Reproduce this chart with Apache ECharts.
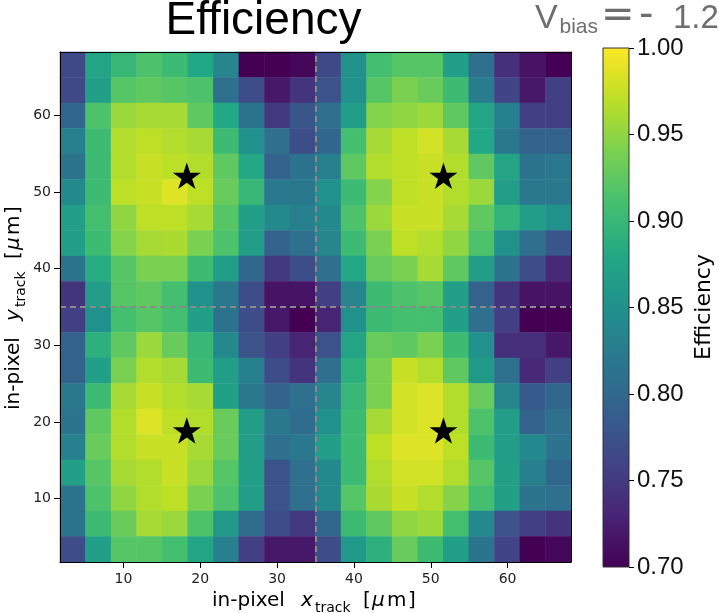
<!DOCTYPE html>
<html>
<head>
<meta charset="utf-8">
<script src="https://cdn.jsdelivr.net/npm/echarts@6/dist/echarts.min.js"></script>
<style>
  html, body { margin: 0; padding: 0; background: #fff; }
  #chart { width: 719px; height: 613px; }
</style>
</head>
<body>
<div id="chart"></div>
<script>
// In-pixel efficiency map, 20 x 20 bins over the in-pixel track position (µm)
const xRange = [1.75, 68.25];
const yRange = [1.75, 68.25];
const axisTicks = [10, 20, 30, 40, 50, 60];
const colorRange = [0.70, 1.00];
const colorStep = 0.05;

// Efficiency per bin, one row per y bin, top row (largest y) first, x increasing left to right
const efficiencyRows = [
  [0.765,0.875,0.900,0.915,0.905,0.880,0.835,0.700,0.700,0.705, 0.765,0.850,0.910,0.920,0.920,0.870,0.810,0.740,0.715,0.700],
  [0.765,0.870,0.920,0.925,0.920,0.915,0.810,0.770,0.720,0.745, 0.775,0.850,0.920,0.940,0.930,0.905,0.825,0.760,0.720,0.755],
  [0.800,0.915,0.955,0.960,0.960,0.925,0.880,0.815,0.750,0.780, 0.810,0.865,0.945,0.950,0.955,0.925,0.875,0.830,0.755,0.755],
  [0.830,0.905,0.965,0.970,0.965,0.960,0.905,0.850,0.810,0.770, 0.800,0.910,0.960,0.970,0.980,0.960,0.880,0.820,0.795,0.795],
  [0.815,0.905,0.965,0.975,0.970,0.965,0.925,0.880,0.795,0.815, 0.830,0.925,0.965,0.970,0.975,0.965,0.925,0.875,0.815,0.820],
  [0.840,0.905,0.970,0.975,0.985,0.970,0.930,0.900,0.820,0.820, 0.850,0.905,0.945,0.970,0.975,0.965,0.955,0.865,0.820,0.820],
  [0.870,0.910,0.950,0.970,0.970,0.960,0.920,0.870,0.840,0.830, 0.840,0.915,0.955,0.975,0.975,0.960,0.925,0.895,0.865,0.850],
  [0.870,0.905,0.945,0.960,0.962,0.940,0.915,0.865,0.795,0.810, 0.835,0.905,0.940,0.970,0.965,0.950,0.915,0.850,0.810,0.780],
  [0.815,0.885,0.920,0.940,0.940,0.905,0.865,0.800,0.750,0.770, 0.810,0.880,0.930,0.940,0.960,0.925,0.870,0.815,0.770,0.735],
  [0.745,0.865,0.920,0.925,0.910,0.850,0.820,0.770,0.715,0.715, 0.755,0.835,0.905,0.915,0.920,0.870,0.795,0.745,0.715,0.715],
  [0.755,0.850,0.910,0.920,0.910,0.870,0.815,0.770,0.720,0.700, 0.730,0.850,0.905,0.910,0.910,0.870,0.810,0.755,0.700,0.700],
  [0.795,0.890,0.925,0.955,0.930,0.900,0.840,0.775,0.755,0.730, 0.775,0.875,0.930,0.925,0.940,0.905,0.850,0.740,0.740,0.720],
  [0.795,0.870,0.940,0.965,0.960,0.905,0.865,0.830,0.770,0.745, 0.810,0.890,0.940,0.975,0.965,0.925,0.860,0.810,0.735,0.755],
  [0.820,0.905,0.960,0.975,0.965,0.960,0.870,0.820,0.795,0.810, 0.835,0.900,0.940,0.980,0.985,0.965,0.930,0.835,0.785,0.800],
  [0.815,0.925,0.965,0.985,0.970,0.965,0.930,0.865,0.820,0.805, 0.850,0.905,0.960,0.980,0.985,0.965,0.915,0.865,0.795,0.810],
  [0.830,0.930,0.965,0.975,0.975,0.960,0.930,0.865,0.810,0.820, 0.865,0.905,0.970,0.985,0.985,0.970,0.905,0.865,0.840,0.815],
  [0.870,0.920,0.960,0.965,0.975,0.955,0.920,0.870,0.775,0.810, 0.840,0.905,0.965,0.980,0.980,0.965,0.920,0.870,0.830,0.800],
  [0.815,0.915,0.950,0.965,0.970,0.940,0.915,0.865,0.775,0.810, 0.840,0.920,0.962,0.975,0.965,0.945,0.910,0.870,0.815,0.810],
  [0.815,0.905,0.930,0.960,0.955,0.915,0.860,0.805,0.770,0.750, 0.800,0.905,0.925,0.950,0.955,0.910,0.840,0.775,0.755,0.745],
  [0.770,0.870,0.920,0.920,0.910,0.875,0.830,0.755,0.720,0.720, 0.770,0.860,0.890,0.930,0.905,0.870,0.815,0.760,0.700,0.705]
];

// Pixel centres (stars) and pixel boundaries (dashed lines), µm
const starX = [18.25, 51.65, 18.25, 51.65];
const starY = [52.1, 52.1, 18.9, 18.9];
const boundaryX = [35];
const boundaryY = [35];

const viridis = ['#440154','#482475','#414487','#355f8d','#2a788e','#21918c',
                 '#22a884','#44bf70','#7ad151','#bddf26','#fde725'];

const nBins = efficiencyRows.length;
const binIndex = efficiencyRows[0].map((_, i) => String(i));
const heatData = [];
efficiencyRows.forEach((row, r) => {
  row.forEach((v, c) => heatData.push([c, nBins - 1 - r, v]));
});
const starData = starX.map((x, i) => [x, starY[i]]);

const STAR = 'path://M0,-1L0.2245,-0.309L0.9511,-0.309L0.3633,0.118L0.5878,0.809L0,0.382L-0.5878,0.809L-0.3633,0.118L-0.9511,-0.309L-0.2245,-0.309Z';

// --- text helpers: place a string so that its alphabetic baseline sits at a given y ---
const measureCtx = document.createElement('canvas').getContext('2d');
function baselineShift(font) {
  measureCtx.font = font;
  const m = measureCtx.measureText('Hg');
  return (m.fontBoundingBoxAscent - m.fontBoundingBoxDescent) / 2;
}
function textAt(text, font, x, baseline, align, fill) {
  return {
    type: 'text', x: x, y: baseline - baselineShift(font), z: 20,
    style: { text: text, font: font, fill: fill || '#000', align: align || 'left', verticalAlign: 'middle' }
  };
}

// axis title pieces: [text, font, offset along the text, baseline shift]
const F20 = '20px "DejaVu Sans"';
const F20I = 'italic 20px "DejaVu Sans"';
const F14 = '14px "DejaVu Sans"';
function axisTitlePieces(symbol) {
  return [
    ['in-pixel', F20, 0, 0],
    [symbol, F20I, 89, 0],
    ['track', F14, 103, 5],
    ['[', F20, 151, 0],
    ['μ', F20I, 160, 0],
    ['m', F20, 175, 0],
    [']', F20, 196, 0]
  ];
}
function titleChildren(pieces) {
  return pieces.map(p => textAt(p[0], p[1], p[2], p[3], 'left', '#000'));
}

const tickFont = { fontFamily: 'DejaVu Sans', fontSize: 14, color: '#222' };
const axisLineStyle = { show: true, onZero: false, lineStyle: { color: '#000', width: 1 } };
const valueAxisCommon = {
  type: 'value', gridIndex: 0, splitLine: { show: false },
  axisLine: axisLineStyle,
  axisTick: { show: true, inside: false, length: 6, lineStyle: { color: '#000' }, customValues: axisTicks },
  axisLabel: Object.assign({ customValues: axisTicks }, tickFont),
  z: 10
};
const frameAxis = {
  type: 'value', gridIndex: 0, splitLine: { show: false },
  axisLine: axisLineStyle,
  axisTick: { show: false }, axisLabel: { show: false }, z: 10
};

const chart = echarts.init(document.getElementById('chart'), null, { renderer: 'canvas' });

const gray = '#6e6e6e';

chart.setOption({
  animation: false,
  backgroundColor: '#fff',
  grid: [
    { left: 60, top: 52, width: 511, height: 510 },
    { left: 603, top: 48, width: 26, height: 519 }
  ],
  xAxis: [
    { type: 'category', gridIndex: 0, data: binIndex, show: false },
    Object.assign({}, valueAxisCommon, { min: xRange[0], max: xRange[1], position: 'bottom',
      axisLabel: Object.assign({ customValues: axisTicks, margin: 10 }, tickFont) }),
    Object.assign({}, frameAxis, { min: xRange[0], max: xRange[1], position: 'top' }),
    { type: 'category', gridIndex: 1, data: [''], show: false }
  ],
  yAxis: [
    { type: 'category', gridIndex: 0, data: binIndex, show: false },
    Object.assign({}, valueAxisCommon, { min: yRange[0], max: yRange[1], position: 'left',
      axisLabel: Object.assign({ customValues: axisTicks, margin: 9 }, tickFont) }),
    Object.assign({}, frameAxis, { min: yRange[0], max: yRange[1], position: 'right' }),
    {
      type: 'value', gridIndex: 1, position: 'right',
      min: colorRange[0], max: colorRange[1], interval: colorStep,
      splitLine: { show: false },
      axisLine: { show: false },
      axisTick: { show: true, length: 5, lineStyle: { color: '#000' } },
      axisLabel: { margin: 8, fontFamily: 'Liberation Sans', fontSize: 24, color: '#111',
        formatter: (v) => v.toFixed(2) },
      z: 10
    }
  ],
  visualMap: {
    type: 'continuous', show: false, seriesIndex: 0,
    min: colorRange[0], max: colorRange[1],
    inRange: { color: viridis }
  },
  series: [
    {
      type: 'heatmap', xAxisIndex: 0, yAxisIndex: 0,
      data: heatData,
      itemStyle: { borderWidth: 0 },
      emphasis: { disabled: true }
    },
    {
      type: 'scatter', xAxisIndex: 1, yAxisIndex: 1,
      data: starData,
      symbol: STAR, symbolSize: [28, 26.5],
      itemStyle: { color: '#000', opacity: 1 },
      z: 5,
      markLine: {
        silent: true, symbol: 'none', label: { show: false },
        lineStyle: { color: '#8a8a8a', type: [6, 4], width: 2, opacity: 1 },
        data: boundaryX.map(v => ({ xAxis: v })).concat(boundaryY.map(v => ({ yAxis: v })))
      }
    },
    {
      type: 'custom', xAxisIndex: 3, yAxisIndex: 3,
      data: [[0, colorRange[1]]],
      renderItem: (params, api) => {
        const cs = params.coordSys;
        const stops = viridis.map((c, i) => ({ offset: i / (viridis.length - 1), color: c }));
        return {
          type: 'rect',
          shape: { x: cs.x, y: cs.y, width: cs.width, height: cs.height },
          style: {
            fill: new echarts.graphic.LinearGradient(0, 1, 0, 0, stops),
            stroke: '#333', lineWidth: 1
          }
        };
      }
    }
  ],
  graphic: [
    textAt('Efficiency', '46px "Liberation Sans"', 263.5, 37, 'center', '#000'),
    textAt('V', '34px "Liberation Sans"', 535, 30.7, 'left', gray),
    textAt('bias', '21px "Liberation Sans"', 559.5, 35, 'left', gray),
    textAt('=', '40px "DejaVu Sans"', 601, 30.7, 'left', gray),
    textAt('-', '40px "DejaVu Sans"', 639, 30.7, 'left', gray),
    textAt('1.2', '33px "Liberation Sans"', 673, 30.7, 'left', gray),
    { type: 'group', x: 212, y: 608, children: titleChildren(axisTitlePieces('x')) },
    { type: 'group', x: 21, y: 410, rotation: Math.PI / 2, children: titleChildren(axisTitlePieces('y')) },
    { type: 'group', x: 712, y: 307, rotation: Math.PI / 2,
      children: [textAt('Efficiency', '22px "DejaVu Sans"', 0, 0, 'center', '#000')] }
  ]
});
</script>
</body>
</html>
